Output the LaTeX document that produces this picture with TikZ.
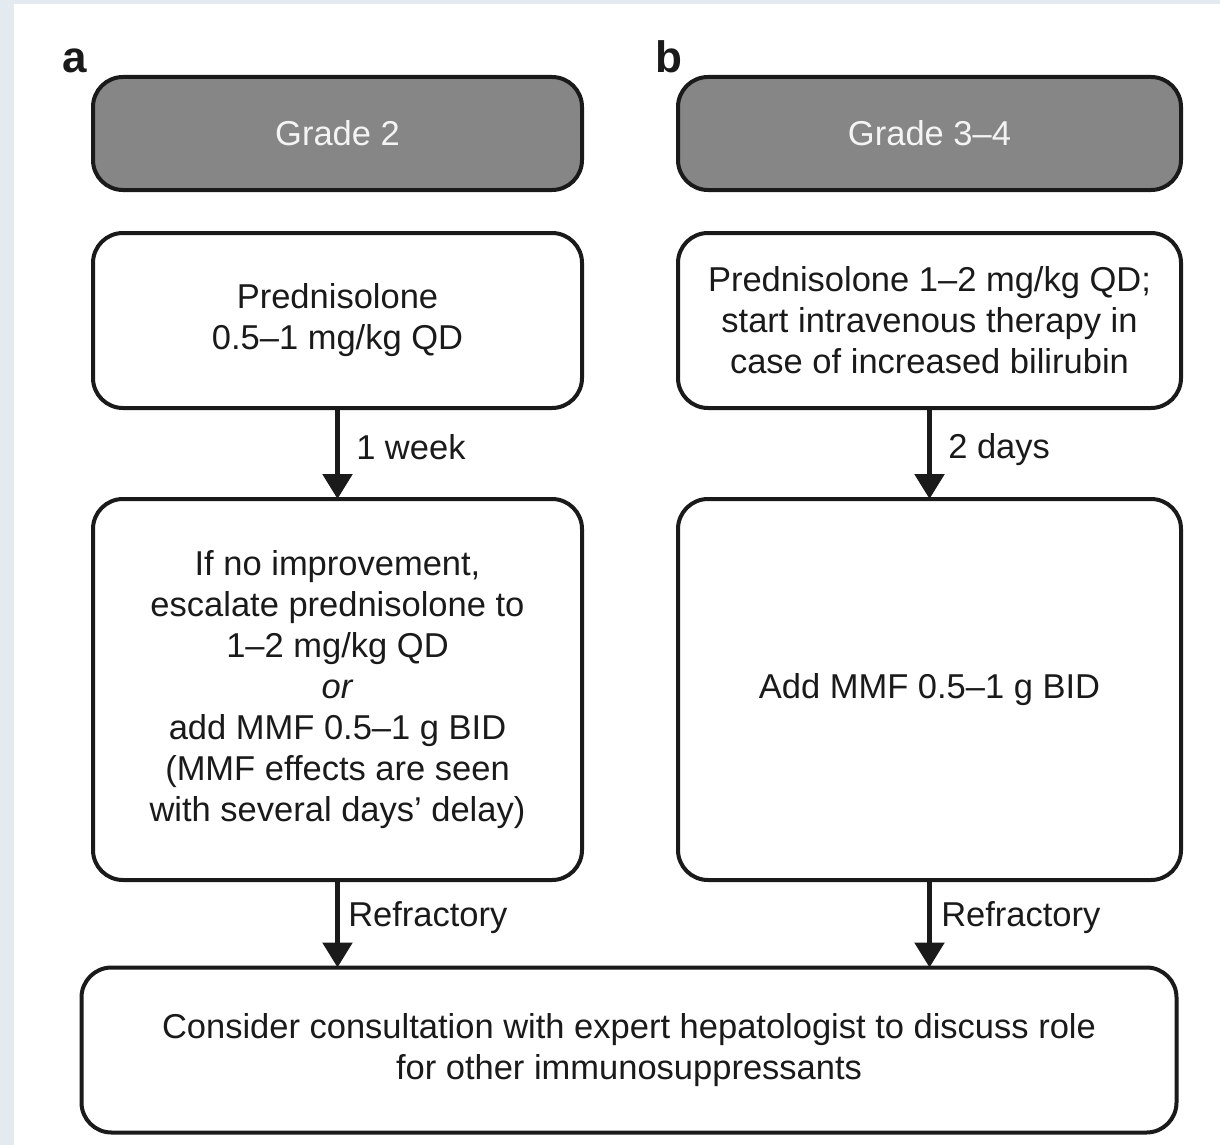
\documentclass[tikz,border=0pt]{standalone}
\usepackage{fontspec}
\setmainfont{Liberation Sans}
\usetikzlibrary{arrows.meta}
\definecolor{bgblue}{HTML}{E3EAF0}
\definecolor{hdrgray}{HTML}{868686}
\definecolor{hdrtext}{HTML}{F4F4F4}
\definecolor{ink}{HTML}{1A1A1A}
\newcommand{\mainfs}{\fontsize{34.5}{41}\selectfont}
\begin{document}
\begin{tikzpicture}[x=1pt,y=-1pt,
  box/.style={draw=ink, line width=4pt, rounded corners=30pt, fill=white,
    align=center, inner sep=0pt, outer sep=0pt, text=ink, font=\mainfs},
  hdr/.style={box, fill=hdrgray, text=hdrtext},
  arr/.style={draw=ink, line width=5.5pt, -{Triangle[width=29pt,length=25pt]}},
  lbl/.style={anchor=west, inner sep=0pt, text=ink, font=\mainfs},
  panel/.style={anchor=base west, inner sep=0pt, text=ink, font=\fontsize{44}{50}\selectfont\bfseries}]
\useasboundingbox (0,0) rectangle (1220,1145);
\fill[bgblue] (0,0) rectangle (1220,1145);
\fill[white] (14,4) rectangle (1220,1145);

\node[panel] (la) at (62,73) {a};
\node[panel] (lb) at (655,73) {b};

\node[hdr, minimum width=489pt, minimum height=113pt] (hA) at (337.5,133.5) {Grade 2};
\node[hdr, minimum width=503pt, minimum height=113pt] (hB) at (929.5,133.5) {Grade 3–4};

\node[box, minimum width=489pt, minimum height=175pt] (pA) at (337.5,320.5) {Prednisolone\\0.5–1 mg/kg QD};
\node[box, minimum width=503pt, minimum height=175pt] (pB) at (929.5,320.5) {Prednisolone 1–2 mg/kg QD;\\start intravenous therapy in\\case of increased bilirubin};

\node[box, minimum width=489pt, minimum height=381pt] (eA) at (337.5,689.5) {If no improvement,\\escalate prednisolone to\\1–2 mg/kg QD\\\textit{or}\\add MMF 0.5–1 g BID\\(MMF effects are seen\\with several days’ delay)};
\node[box, minimum width=503pt, minimum height=381pt] (eB) at (929.5,689.5) {Add MMF 0.5–1 g BID};

\node[box, minimum width=1095pt, minimum height=165pt] (cons) at (629,1050) {Consider consultation with expert hepatologist to discuss role\\for other immunosuppressants};

\draw[arr] (pA) -- node[lbl, pos=0.43, xshift=16pt] {1 week} (eA);
\draw[arr] (pB) -- node[lbl, pos=0.46, xshift=16pt] {2 days} (eB);
\draw[arr] (eA.south) -- node[lbl, pos=0.43, xshift=8pt] {Refractory} (eA.south |- cons.north);
\draw[arr] (eB.south) -- node[lbl, pos=0.43, xshift=9pt] {Refractory} (eB.south |- cons.north);
\end{tikzpicture}
\end{document}
